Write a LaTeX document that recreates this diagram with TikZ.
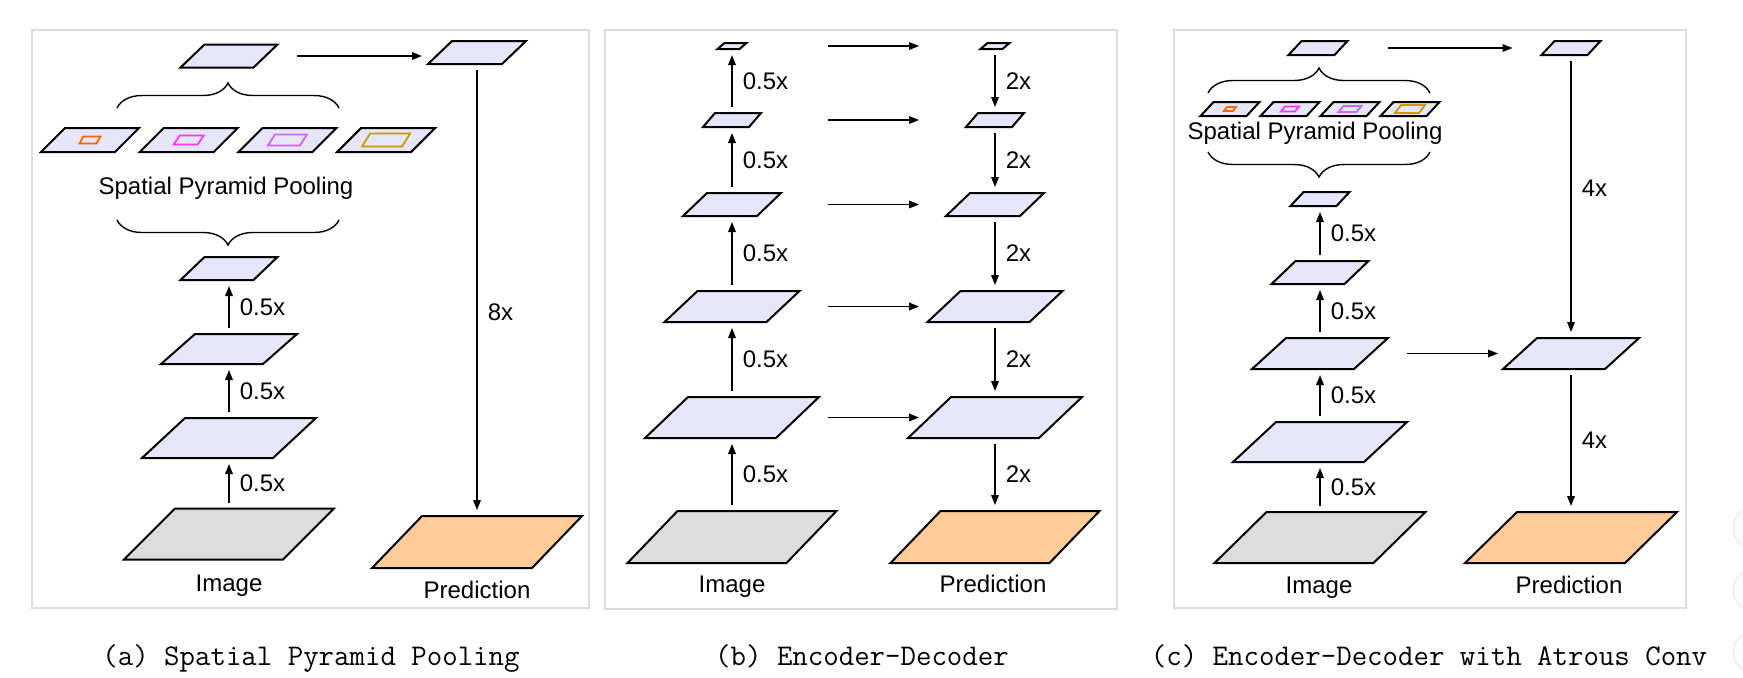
\documentclass[tikz,border=0pt]{standalone}
\usepackage{fontspec}
\setsansfont{Liberation Sans}
\usepackage{xcolor}
\usepackage{tikz}
\usetikzlibrary{arrows.meta,decorations.pathreplacing}

\definecolor{featblue}{HTML}{E6E6FA}
\definecolor{imggray}{HTML}{DCDCDC}
\definecolor{predorange}{HTML}{FFCC99}
\definecolor{poolA}{HTML}{FF6600}
\definecolor{poolB}{HTML}{FF33FF}
\definecolor{poolC}{HTML}{CC66FF}
\definecolor{poolD}{HTML}{CC9900}
\definecolor{framegray}{HTML}{DCDCDC}

% feature map: style, name, centre, width, skew, height
\newcommand{\featmap}[6]{%
  \node[inner sep=0, outer sep=0, minimum width={(#4+#5)*0.5pt}, minimum height={#6*0.5pt}] (#2) at #3 {};
  \draw[#1] (#2.south west) -- ++(#4,0) -- (#2.north east) -- ++(-#4,0) -- cycle;
}

\begin{document}
\begin{tikzpicture}[x=0.5pt, y=-0.5pt, font=\sffamily\fontsize{12}{14}\selectfont,
  plane/.style={draw, line width=1pt},
  feat/.style={plane, fill=featblue},
  img/.style={plane, fill=imggray},
  pred/.style={plane, fill=predorange},
  pool/.style={draw=#1, line width=0.9pt},
  arr/.style={-{Triangle[length=5pt,width=3.8pt]}, line width=0.75pt},
  gap/.style={shorten <=3pt, shorten >=3pt},
  lbl/.style={right, inner sep=0, xshift=5pt},
  brc/.style={decorate, decoration={brace, amplitude=12.5pt}, line width=0.7pt},
  panel/.style={draw=framegray, line width=0.6pt},
  captxt/.style={font=\ttfamily\fontsize{15}{18}\selectfont, anchor=base}]
\useasboundingbox (0,0) rectangle (1743,677);

%% (a) spatial pyramid pooling
\draw[panel] (32,30) rectangle (589,608);
\featmap{img}{imgA}{(229,534)}{159}{51}{51}
\featmap{feat}{a1}{(229,438)}{131}{43}{40}
\featmap{feat}{a2}{(229,349)}{102}{34}{30}
\featmap{feat}{a3}{(229,268.5)}{73}{24}{23}
\featmap{feat}{a4}{(229,56)}{73}{24}{23}
\foreach \i/\col/\fw/\fs/\fh in {0/poolA/17/4/7, 1/poolB/24/6/9, 2/poolC/32/7/11, 3/poolD/40/8/13} {
  \featmap{feat}{sppA\i}{({90+98.7*\i},140)}{74}{24}{24}
  \featmap{pool=\col}{binA\i}{(sppA\i)}{\fw}{\fs}{\fh}
}
\node (txtA) at (226,188) {Spatial Pyramid Pooling};
\draw[brc] (117,108) -- (339,108);
\draw[brc] (339,220) -- (117,220);
\featmap{feat}{outA}{(477,52.5)}{74}{24}{23}
\featmap{pred}{predA}{(477,542)}{160}{50}{52}

\draw[arr,gap] (imgA.north) -- node[lbl]{0.5x} (a1.south);
\draw[arr,gap] (a1.north) -- node[lbl]{0.5x} (a2.south);
\draw[arr,gap] (a2.north) -- node[lbl]{0.5x} (a3.south);
\draw[arr, shorten <=9.5pt, shorten >=3pt] (a4.east) -- (outA.west |- a4.east);
\draw[arr,gap] (outA.south) -- node[lbl, pos=0.55]{8x} (predA.north);

\node[anchor=base] (imgLblA) at (229,591) {Image};
\node[anchor=base] (predLblA) at (477,598) {Prediction};
\node[captxt] (capA) at (311,665) {(a) Spatial Pyramid Pooling};

%% (b) encoder-decoder
\draw[panel] (605,30) rectangle (1117,609);
\featmap{img}{imgB}{(732,537)}{159}{50}{52}
\featmap{pred}{predB}{(995,537)}{159}{50}{52}
\coordinate (skipL) at (828,0);
\coordinate (skipR) at (919,0);
\foreach \n/\y/\fw/\fs/\fh in {1/417.5/131/43/41, 2/306.5/102/33/31, 3/204.5/74/24/23, 4/120/46/12/14, 5/46/22/7/6} {
  \featmap{feat}{encB\n}{(732,\y)}{\fw}{\fs}{\fh}
  \featmap{feat}{decB\n}{(995,\y)}{\fw}{\fs}{\fh}
  \draw[arr] (skipL |- encB\n) -- (skipR |- decB\n);
}
\draw[arr,gap] (imgB.north) -- node[lbl]{0.5x} (encB1.south);
\foreach \a/\b in {1/2, 2/3, 3/4, 4/5} {
  \draw[arr,gap] (encB\a.north) -- node[lbl]{0.5x} (encB\b.south);
  \draw[arr,gap] (decB\b.south) -- node[lbl]{2x} (decB\a.north);
}
\draw[arr,gap] (decB1.south) -- node[lbl]{2x} (predB.north);

\node[anchor=base] (imgLblB) at (732,592) {Image};
\node[anchor=base] (predLblB) at (993,592) {Prediction};
\node[captxt] (capB) at (862,665) {(b) Encoder-Decoder};

%% (c) encoder-decoder with atrous conv
\draw[panel] (1174,30) rectangle (1686,608);
\featmap{img}{imgC}{(1320,537.5)}{159}{52}{51}
\featmap{feat}{c0}{(1320,442)}{131}{43}{40}
\featmap{feat}{c1}{(1320,353.5)}{102}{34}{31}
\featmap{feat}{c2}{(1320,272.5)}{73}{24}{23}
\featmap{feat}{c3}{(1320,199)}{46}{13}{14}
\featmap{feat}{c4}{(1318,48)}{46}{13}{14}
\foreach \i/\col/\fw/\fs/\fh in {0/poolA/9/3/4, 1/poolB/14/4/5, 2/poolC/18/5/6, 3/poolD/24/6/8} {
  \featmap{feat}{sppC\i}{({1230+60*\i},109)}{46}{13}{14}
  \featmap{pool=\col}{binC\i}{(sppC\i)}{\fw}{\fs}{\fh}
}
\node (txtC) at (1315,133) {Spatial Pyramid Pooling};
\draw[brc] (1208,93) -- (1430,93);
\draw[brc] (1430,152) -- (1208,152);
\featmap{feat}{r3}{(1571,48)}{46}{13}{14}
\featmap{feat}{r1}{(1571,353.5)}{102}{34}{31}
\featmap{pred}{predC}{(1571,537.5)}{160}{52}{51}

\draw[arr,gap] (imgC.north) -- node[lbl]{0.5x} (c0.south);
\draw[arr,gap] (c0.north) -- node[lbl]{0.5x} (c1.south);
\draw[arr,gap] (c1.north) -- node[lbl]{0.5x} (c2.south);
\draw[arr,gap] (c2.north) -- node[lbl]{0.5x} (c3.south);
\draw[arr, shorten <=20pt, shorten >=14.5pt] (c4.east) -- (r3.west);
\draw[arr, shorten <=9.5pt, shorten >=2.5pt] (c1.east) -- (r1.west);
\draw[arr,gap] (r3.south) -- node[lbl, pos=0.47]{4x} (r1.north);
\draw[arr,gap] (r1.south) -- node[lbl]{4x} (predC.north);

\node[anchor=base] (imgLblC) at (1319,593) {Image};
\node[anchor=base] (predLblC) at (1569,593) {Prediction};
\node[captxt] (capC) at (1429,665) {(c) Encoder-Decoder with Atrous Conv};

% screen buttons cut by the right edge
\foreach \y in {528,590,652}
  \draw[gray!20, fill=gray!4] (1754,\y) circle[radius=10.5pt];
\end{tikzpicture}
\end{document}
